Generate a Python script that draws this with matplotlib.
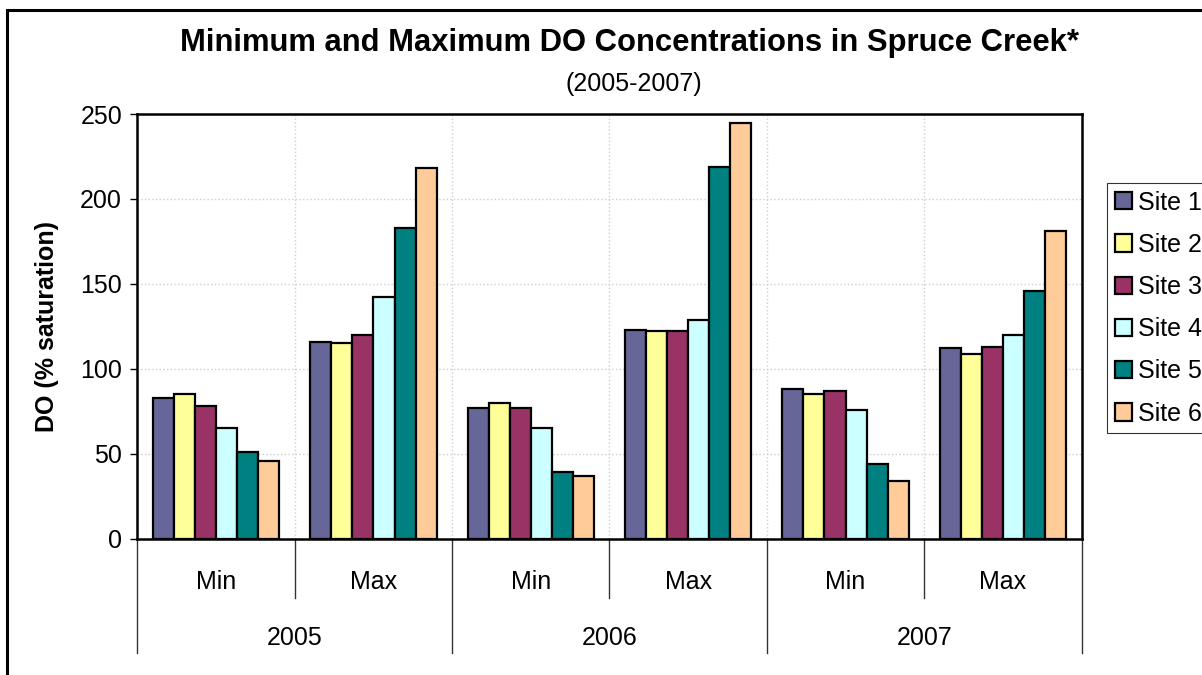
import matplotlib
matplotlib.use("Agg")
import matplotlib.pyplot as plt
import matplotlib.transforms as mtransforms
from matplotlib.patches import Rectangle
import numpy as np

plt.rcParams['font.family'] = ['Liberation Sans', 'DejaVu Sans']

# Datos: DO (% saturacion) por sitio, en orden Min/Max para cada año
years = ['2005', '2006', '2007']
stats = ['Min', 'Max']
sites = ['Site 1', 'Site 2', 'Site 3', 'Site 4', 'Site 5', 'Site 6']

site1 = [83, 116, 77, 123, 88, 112]
site2 = [85, 115, 80, 122, 85, 109]
site3 = [78, 120, 77, 122, 87, 113]
site4 = [65, 142, 65, 129, 76, 120]
site5 = [51, 183, 39, 219, 44, 146]
site6 = [46, 218, 37, 245, 34, 181]
series = [site1, site2, site3, site4, site5, site6]

colores = ['#666699', '#FFFF99', '#993366', '#CCFFFF', '#008080', '#FFCC99']

fig = plt.figure(figsize=(12.02, 6.75), dpi=100)
ax = fig.add_axes([0.1143, 0.2019, 0.7855, 0.6292])

ngrupos = len(years) * len(stats)
x = np.arange(ngrupos)
ancho = 0.134

for i, (vals, c, lab) in enumerate(zip(series, colores, sites)):
    ax.bar(x + (i - 2.5) * ancho, vals, ancho, color=c, edgecolor='black',
           linewidth=1.6, label=lab, zorder=3)

ax.set_xlim(-0.5, ngrupos - 0.5)
ax.set_ylim(0, 250)
ax.set_yticks(range(0, 251, 50))
ax.tick_params(axis='y', labelsize=18, length=5, width=1, direction='out', pad=6)
ax.set_xticks([])

# rejilla punteada gris
ax.yaxis.grid(True, color='#cfcfcf', linestyle=':', linewidth=1)
for b in np.arange(0.5, ngrupos - 0.5, 1):
    ax.axvline(b, color='#cfcfcf', linestyle=':', linewidth=1, zorder=0)
ax.set_axisbelow(True)

for s in ax.spines.values():
    s.set_linewidth(1.8)
    s.set_color('black')

ax.set_ylabel('DO (% saturation)', fontsize=18, fontweight='bold')
ax.yaxis.set_label_coords(-0.083, 0.5)

# eje de categorias en dos niveles (Min/Max y año)
trans = mtransforms.blended_transform_factory(ax.transData, ax.transAxes)
for k in range(ngrupos + 1):
    b = k - 0.5
    if k % 2 == 0:
        y_fin = -0.269
    else:
        y_fin = -0.139
    ax.plot([b, b], [0, y_fin], transform=trans, color='#333333',
            linewidth=1, clip_on=False)

for k in range(ngrupos):
    ax.text(k, -0.119, stats[k % 2], transform=trans, ha='center',
            va='baseline', fontsize=18)
for j, yr in enumerate(years):
    ax.text(2 * j + 0.5, -0.250, yr, transform=trans, ha='center',
            va='baseline', fontsize=18)

fig.text(629 / 1202, 1 - 50.7 / 675,
         'Minimum and Maximum DO Concentrations in Spruce Creek*',
         ha='center', va='baseline', fontsize=22.3, fontweight='bold')
fig.text(634 / 1202, 1 - 91 / 675, '(2005-2007)', ha='center',
         va='baseline', fontsize=18)

leg = ax.legend(loc='upper left', bbox_to_anchor=(1107 / 1202, 1 - 183 / 675),
                bbox_transform=fig.transFigure, fontsize=18, frameon=True,
                fancybox=False, borderaxespad=0, handlelength=0.68,
                handleheight=0.68, handletextpad=0.25, labelspacing=0.73,
                borderpad=0.3)
leg.get_frame().set_edgecolor('black')
leg.get_frame().set_linewidth(0.8)

# marco exterior del grafico
fig.patches.append(Rectangle((7 / 1202, -0.1), 1.2, 1 - 10 / 675 + 0.1,
                             transform=fig.transFigure, fill=False,
                             edgecolor='black', linewidth=2.2))

fig.savefig('out.png', dpi=100)
